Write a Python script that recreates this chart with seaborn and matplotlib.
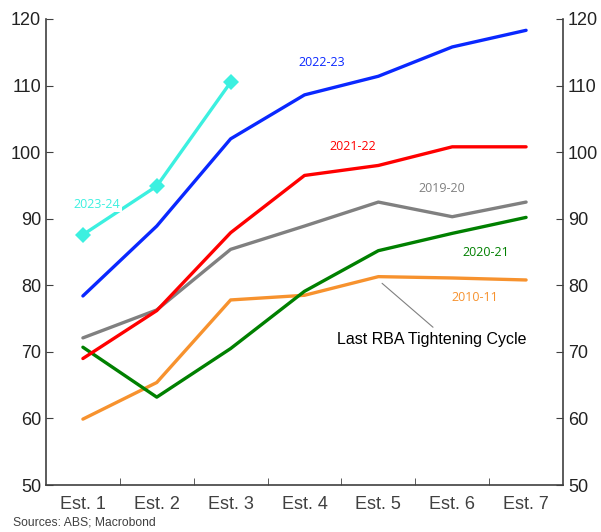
import pandas as pd
import matplotlib
matplotlib.use("Agg")
import matplotlib.pyplot as plt
import seaborn as sns

estimates = ["Est. 1", "Est. 2", "Est. 3", "Est. 4", "Est. 5", "Est. 6", "Est. 7"]

fy_2010_11 = [59.9, 65.4, 77.8, 78.5, 81.3, 81.1, 80.8]
fy_2019_20 = [72.1, 76.3, 85.4, 88.9, 92.5, 90.3, 92.5]
fy_2020_21 = [70.7, 63.2, 70.5, 79.1, 85.2, 87.8, 90.2]
fy_2021_22 = [69.0, 76.2, 87.9, 96.5, 98.0, 100.8, 100.8]
fy_2022_23 = [78.4, 88.9, 102.0, 108.6, 111.4, 115.8, 118.3]
fy_2023_24 = [87.6, 94.9, 110.5]

series = {
    "2010-11": fy_2010_11,
    "2019-20": fy_2019_20,
    "2020-21": fy_2020_21,
    "2021-22": fy_2021_22,
    "2022-23": fy_2022_23,
    "2023-24": fy_2023_24,
}
colours = {
    "2010-11": "#f7922e",
    "2019-20": "#808080",
    "2020-21": "#008000",
    "2021-22": "#ff0000",
    "2022-23": "#0a28ff",
    "2023-24": "#3cf0e0",
}

rows = []
for name, vals in series.items():
    for i, v in enumerate(vals):
        rows.append({"year": name, "x": i, "value": v})
df = pd.DataFrame(rows)

sns.set_style("white")
plt.rcParams["font.family"] = ["Liberation Sans", "DejaVu Sans"]

fig = plt.figure(figsize=(6.01, 5.32), dpi=100)
ax = fig.add_axes([0.0765, 0.0883, 0.8603, 0.876])

sns.lineplot(data=df[df["year"] != "2023-24"], x="x", y="value", hue="year",
             palette=colours, linewidth=2.4, legend=False, ax=ax)
sns.lineplot(data=df[df["year"] == "2023-24"], x="x", y="value", color=colours["2023-24"],
             linewidth=2.4, marker="D", markersize=8, markeredgewidth=0, legend=False, ax=ax)

ax.set_xlim(-0.5, 6.5)
ax.set_ylim(50, 120)
ax.set_xlabel("")
ax.set_ylabel("")
ax.set_xticks(range(len(estimates)))
ax.set_xticklabels(estimates)
ax.set_xticks([i + 0.5 for i in range(len(estimates) - 1)], minor=True)
ax.tick_params(axis="x", which="major", length=0, labelsize=13, labelcolor="#404040", pad=8)
ax.tick_params(axis="x", which="minor", direction="in", length=5, color="#404040", bottom=True)
ax.set_yticks(range(50, 121, 10))
ax.tick_params(axis="y", direction="in", length=5, color="#404040", labelsize=13,
               left=True, right=True, labelright=True, labelcolor="#222222")

for side in ["left", "right", "bottom"]:
    ax.spines[side].set_color("#404040")
    ax.spines[side].set_linewidth(1.2)
ax.spines["top"].set_visible(False)

lab_font = dict(fontsize=9, family=["Open Sans", "DejaVu Sans"])
ax.text(3.23, 113.4, "2022-23", color=colours["2022-23"], ha="center", va="center", **lab_font)
ax.text(3.66, 100.9, "2021-22", color=colours["2021-22"], ha="center", va="center", **lab_font)
ax.text(4.86, 94.5, "2019-20", color=colours["2019-20"], ha="center", va="center", **lab_font)
ax.text(5.46, 85.0, "2020-21", color=colours["2020-21"], ha="center", va="center", **lab_font)
ax.text(5.31, 78.1, "2010-11", color=colours["2010-11"], ha="center", va="center", **lab_font)
ax.text(0.19, 92.2, "2023-24", color=colours["2023-24"], ha="center", va="center",
        bbox=dict(facecolor="white", edgecolor="none", pad=1), **lab_font)

ax.annotate("", xy=(4.05, 80.3), xytext=(4.74, 73.7),
            arrowprops=dict(arrowstyle="-", color="#808080", lw=0.8, shrinkA=0, shrinkB=0))
ax.text(4.72, 71.8, "Last RBA Tightening Cycle", ha="center", va="center",
        fontsize=11.5, color="black")

fig.text(0.022, 0.013, "Sources: ABS; Macrobond", fontsize=8.7, color="#404040")

fig.savefig("out.png", dpi=100)
